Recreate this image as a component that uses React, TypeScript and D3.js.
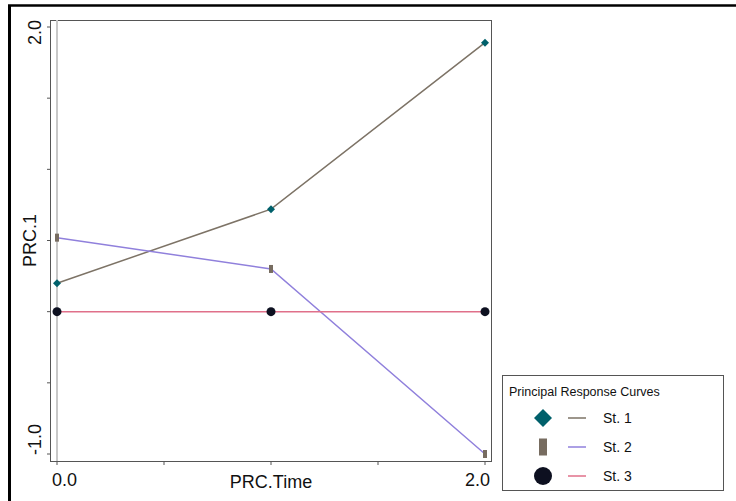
import React from "react";
import * as d3 from "d3";

const times = [0, 1, 2];
const st1 = [0.2, 0.72, 1.89];
const st2 = [0.52, 0.3, -1.0];
const st3 = [0, 0, 0];
const seriesNames = ["St. 1", "St. 2", "St. 3"];
const xTicks = [0, 0.5, 1, 1.5, 2];
const xTickLabels = ["0.0", "", "", "", "2.0"];
const yTicks = [-1, -0.5, 0, 0.5, 1, 1.5, 2];
const yTickLabels = ["-1.0", "", "", "", "", "", "2.0"];

const lineColors = ["#7d7366", "#9080dc", "#e0708a"];
const markerColors = ["#00606b", "#776c60", "#0d1020"];

export default function App() {
  const W = 736, H = 501;
  const left = 50, right = 491, top = 20, bottom = 461;
  const x = d3.scaleLinear().domain([0, 2]).range([57, 485]);
  const y = d3.scaleLinear().domain([-1, 2]).range([454, 27]);
  const line = d3.line<number>().x((_, i) => x(times[i])).y((d) => y(d));
  const all = [st1, st2, st3];
  const font = "'Liberation Sans', Arial, sans-serif";

  const marker = (k: number, cx: number, cy: number, big = false) => {
    if (k === 0) {
      const s = big ? 9 : 4;
      return <path d={`M${cx},${cy - s}L${cx + s},${cy}L${cx},${cy + s}L${cx - s},${cy}Z`} fill={markerColors[0]} />;
    }
    if (k === 1) {
      const w = big ? 8 : 4, h = big ? 17 : 8;
      return <rect x={cx - w / 2} y={cy - h / 2} width={w} height={h} fill={markerColors[1]} />;
    }
    return <circle cx={cx} cy={cy} r={big ? 9 : 4.5} fill={markerColors[2]} />;
  };

  const nY = yTicks.length;
  const nX = xTicks.length;

  return (
    <svg width={W} height={H} style={{ position: "absolute", left: 0, top: 0 }} fontFamily={font}>
      <rect x={0} y={0} width={W} height={H} fill="#fff" />
      <line x1={9.5} y1={5} x2={9.5} y2={H} stroke="#000" strokeWidth={3} />
      <line x1={8} y1={5.5} x2={W} y2={5.5} stroke="#000" strokeWidth={2.5} />
      {/* plot box */}
      <rect x={left + 0.5} y={top + 0.5} width={right - left} height={bottom - top} fill="none" stroke="#555" strokeWidth={1} />
      {/* zero time line */}
      <line x1={x(0)} y1={top} x2={x(0)} y2={bottom} stroke="#c8c8c8" strokeWidth={2} />
      {/* y ticks */}
      {yTicks.map((t, i) => {
        const anchor = i === 0 ? "start" : i === nY - 1 ? "end" : "middle";
        const pos = i === 0 ? bottom - 6 : i === nY - 1 ? top : y(t);
        return (
          <g key={"y" + i}>
            <line x1={left - 3} x2={left + 0.5} y1={y(t)} y2={y(t)} stroke="#555" />
            {yTickLabels[i] && (
              <text transform={`translate(${41},${pos}) rotate(-90)`} textAnchor={anchor} fontSize={18} fill="#111">
                {yTickLabels[i]}
              </text>
            )}
          </g>
        );
      })}
      {/* x ticks */}
      {xTicks.map((t, i) => {
        const anchor = i === 0 ? "start" : i === nX - 1 ? "end" : "middle";
        const pos = i === 0 ? 52 : i === nX - 1 ? 490 : x(t);
        return (
          <g key={"x" + i}>
            <line x1={x(t)} x2={x(t)} y1={bottom + 0.5} y2={bottom + 4} stroke="#555" />
            {xTickLabels[i] && (
              <text x={pos} y={bottom + 25} textAnchor={anchor} fontSize={18} fill="#111">
                {xTickLabels[i]}
              </text>
            )}
          </g>
        );
      })}
      <text x={271} y={bottom + 27} textAnchor="middle" fontSize={18} fill="#111">PRC.Time</text>
      <text transform={`translate(36,${(top + bottom) / 2}) rotate(-90)`} textAnchor="middle" fontSize={18} fill="#111">PRC.1</text>
      {/* lines */}
      {all.map((s, k) => (
        <path key={"l" + k} d={line(s) || ""} fill="none" stroke={lineColors[k]} strokeWidth={1.5} />
      ))}
      {all.map((s, k) =>
        s.map((v, i) => <g key={`m${k}-${i}`}>{marker(k, x(times[i]), y(v))}</g>)
      )}
      {/* legend */}
      <rect x={502.5} y={375.5} width={221} height={115} fill="#fff" stroke="#555" strokeWidth={1} />
      <text x={509} y={396} fontSize={12.5} fill="#111">Principal Response Curves</text>
      {seriesNames.map((n, k) => {
        const cy = 418 + k * 29;
        return (
          <g key={"lg" + k}>
            {marker(k, 543, cy, true)}
            <line x1={568} x2={586} y1={cy} y2={cy} stroke={lineColors[k]} strokeWidth={1.5} />
            <text x={603} y={cy + 5} fontSize={14} fill="#111">{n}</text>
          </g>
        );
      })}
    </svg>
  );
}
